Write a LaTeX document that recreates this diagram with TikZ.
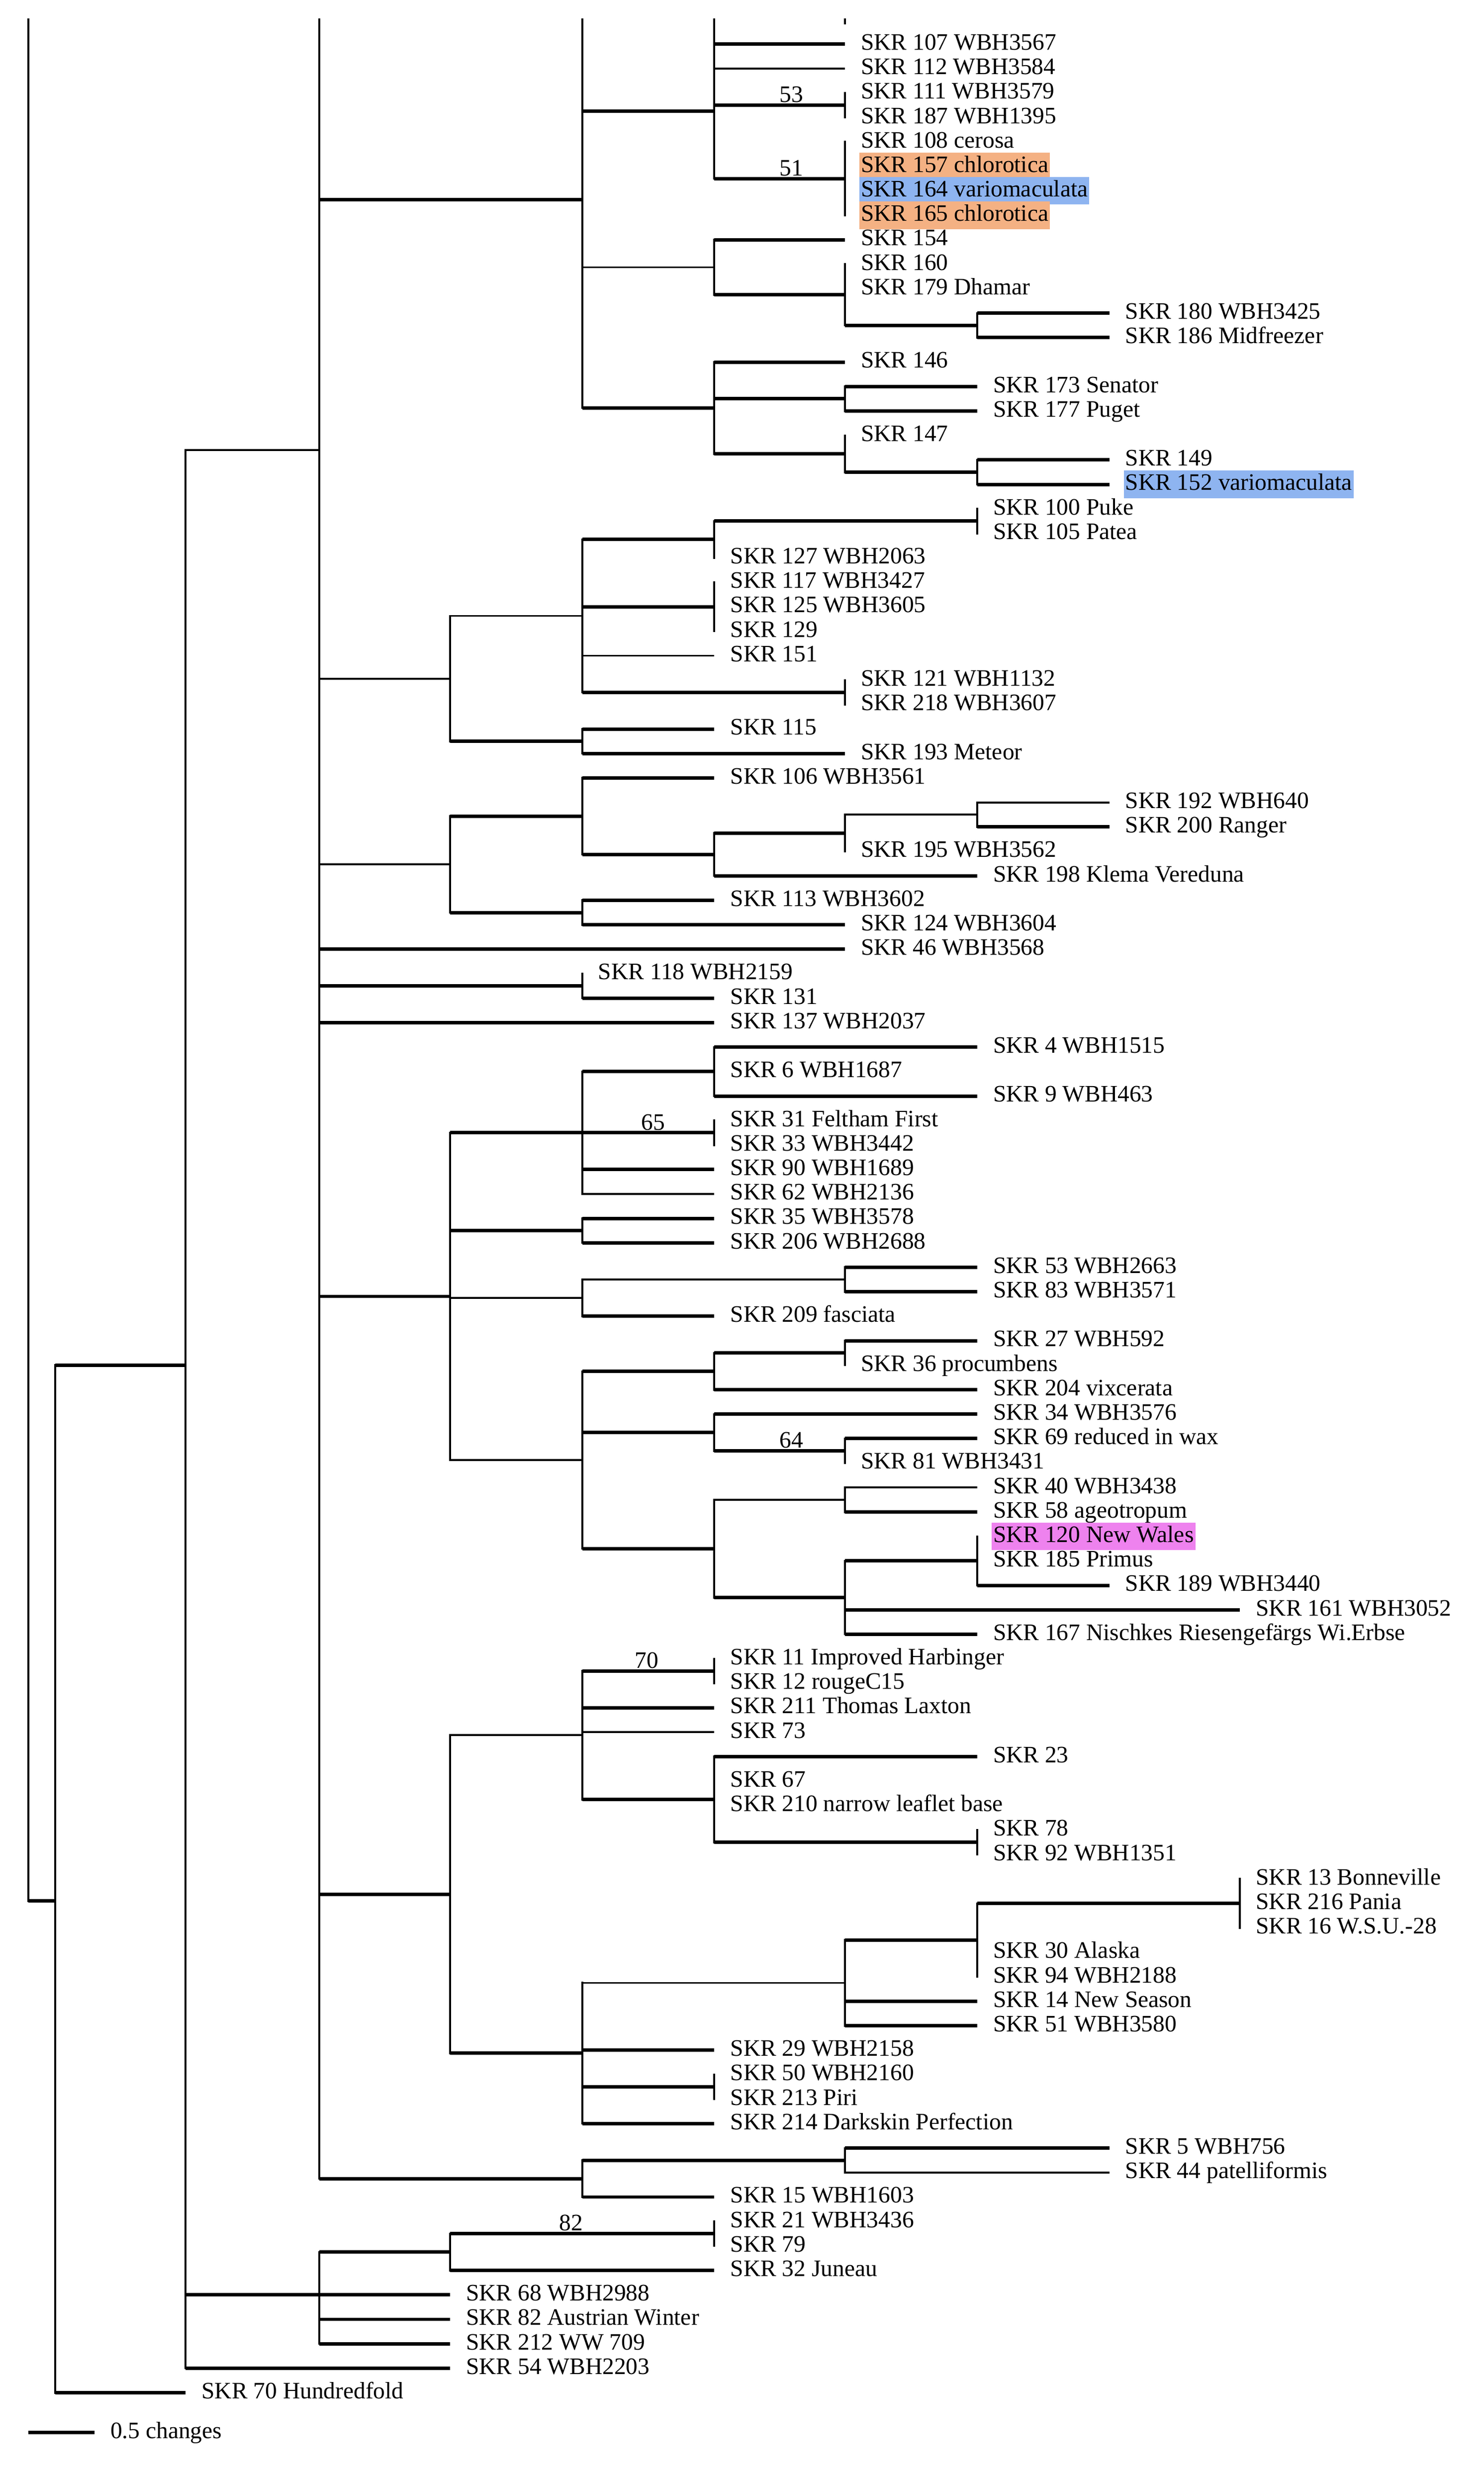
\documentclass[tikz,border=0pt]{standalone}
\usepackage{fontspec}
\setmainfont{Liberation Serif}
\definecolor{hor}{HTML}{F4B183}
\definecolor{hbl}{HTML}{8EB4F0}
\definecolor{hmg}{HTML}{EE82EE}
\newcommand\Nd[7]{%
 \coordinate (#1) at (#3,#4); \coordinate (#1p) at (#2,#4);
 \coordinate (#1a) at (#3,#5); \coordinate (#1z) at (#3,#6);
 \draw[#7] (#1p) -- (#1); \draw[v] (#1a) -- (#1z);}
\newcommand\Lf[6]{%
 \coordinate (#1p) at (#2,#4); \coordinate (#1t) at (#3,#4);
 \draw[#6] (#1p) -- (#1t);
 \node[lab] (#1) at ([xshift=9pt]#1t) {#5};}
\newcommand\Lh[7]{%
 \coordinate (#1p) at (#2,#4); \coordinate (#1t) at (#3,#4);
 \draw[#6] (#1p) -- (#1t);
 \node[lab,fill=#7] (#1) at ([xshift=9pt]#1t) {#5};}
\begin{document}
\begin{tikzpicture}[x=1pt,y=-15.55pt,
 v/.style={line width=1.3pt,line cap=rect},
 h/.style={line width=2.2pt},
 t/.style={line width=1.2pt},
 lab/.style={anchor=west,font=\fontsize{15}{15}\selectfont,inner xsep=1pt,inner ysep=1.5pt,text height=11pt,text depth=3.5pt},
 sup/.style={anchor=south,font=\fontsize{15}{15}\selectfont,inner sep=1.5pt}]
\useasboundingbox (0,-1.8) rectangle (943,99.16);
% backbone
\Nd{nA}{18}{18}{75.9}{-1}{75.9}{h}
\Nd{nB}{18}{35}{75.9}{54.0}{96}{h}
\Nd{nC}{35}{118}{54.0}{16.6}{95}{h}
\Nd{nD}{118}{203}{16.6}{-1}{87.25}{t}
\coordinate (tk1) at (537,-1); \coordinate (tk2) at (537,-0.85);
\draw[v] (tk1) -- (tk2);
% upper clade
\Nd{nE}{203}{370}{6.37}{-1}{14.875}{h}
\Nd{nF}{370}{454}{2.75}{-1}{5.5}{h}
\Lf{L0}{454}{537}{0}{SKR 107 WBH3567}{h}
\Lf{L1}{454}{537}{1}{SKR 112 WBH3584}{t}
\Nd{nG}{454}{537}{2.5}{2}{3}{h}
\node[sup] (s53) at (503,2.5) {53};
\Lf{L2}{537}{537}{2}{SKR 111 WBH3579}{t}
\Lf{L3}{537}{537}{3}{SKR 187 WBH1395}{t}
\Nd{nH}{454}{537}{5.5}{4}{7}{h}
\node[sup] (s51) at (503,5.5) {51};
\Lf{L4}{537}{537}{4}{SKR 108 cerosa}{t}
\Lh{L5}{537}{537}{5}{SKR 157 chlorotica}{t}{hor}
\Lh{L6}{537}{537}{6}{SKR 164 variomaculata}{t}{hbl}
\Lh{L7}{537}{537}{7}{SKR 165 chlorotica}{t}{hor}
\Nd{nI}{370}{454}{9.125}{8}{10.25}{t}
\Lf{L8}{454}{537}{8}{SKR 154}{h}
\Nd{nJ}{454}{537}{10.25}{9}{11.5}{h}
\Lf{L9}{537}{537}{9}{SKR 160}{t}
\Lf{L10}{537}{537}{10}{SKR 179 Dhamar}{t}
\Nd{nK}{537}{621}{11.5}{11}{12}{h}
\Lf{L11}{621}{705}{11}{SKR 180 WBH3425}{h}
\Lf{L12}{621}{705}{12}{SKR 186 Midfreezer}{h}
\Nd{nL}{370}{454}{14.875}{13}{16.75}{h}
\Lf{L13}{454}{537}{13}{SKR 146}{h}
\Nd{nM}{454}{537}{14.5}{14}{15}{h}
\Lf{L14}{537}{621}{14}{SKR 173 Senator}{h}
\Lf{L15}{537}{621}{15}{SKR 177 Puget}{h}
\Nd{nN}{454}{537}{16.75}{16}{17.5}{h}
\Lf{L16}{537}{537}{16}{SKR 147}{t}
\Nd{nO}{537}{621}{17.5}{17}{18}{h}
\Lf{L17}{621}{705}{17}{SKR 149}{h}
\Lh{L18}{621}{705}{18}{SKR 152 variomaculata}{h}{hbl}
% clade 2
\Nd{nP}{203}{286}{25.94}{23.375}{28.5}{t}
\Nd{nQ}{286}{370}{23.375}{20.25}{26.5}{t}
\Nd{nR}{370}{454}{20.25}{19.5}{21}{h}
\Nd{nS}{454}{621}{19.5}{19}{20}{h}
\Lf{L19}{621}{621}{19}{SKR 100 Puke}{t}
\Lf{L20}{621}{621}{20}{SKR 105 Patea}{t}
\Lf{L21}{454}{454}{21}{SKR 127 WBH2063}{t}
\Nd{nT}{370}{454}{23}{22}{24}{h}
\Lf{L22}{454}{454}{22}{SKR 117 WBH3427}{t}
\Lf{L23}{454}{454}{23}{SKR 125 WBH3605}{t}
\Lf{L24}{454}{454}{24}{SKR 129}{t}
\Lf{L25}{370}{454}{25}{SKR 151}{t}
\Nd{nU}{370}{537}{26.5}{26}{27}{h}
\Lf{L26}{537}{537}{26}{SKR 121 WBH1132}{t}
\Lf{L27}{537}{537}{27}{SKR 218 WBH3607}{t}
\Nd{nV}{286}{370}{28.5}{28}{29}{h}
\Lf{L28}{370}{454}{28}{SKR 115}{h}
\Lf{L29}{370}{537}{29}{SKR 193 Meteor}{h}
\Nd{nW}{203}{286}{33.53}{31.56}{35.5}{t}
\Nd{nX}{286}{370}{31.56}{30}{33.125}{h}
\Lf{L30}{370}{454}{30}{SKR 106 WBH3561}{h}
\Nd{nY}{370}{454}{33.125}{32.25}{34}{h}
\Nd{nZ}{454}{537}{32.25}{31.5}{33}{h}
\Nd{nAa}{537}{621}{31.5}{31}{32}{t}
\Lf{L31}{621}{705}{31}{SKR 192 WBH640}{t}
\Lf{L32}{621}{705}{32}{SKR 200 Ranger}{h}
\Lf{L33}{537}{537}{33}{SKR 195 WBH3562}{t}
\Lf{L34}{454}{621}{34}{SKR 198 Klema Vereduna}{h}
\Nd{nAb}{286}{370}{35.5}{35}{36}{h}
\Lf{L35}{370}{454}{35}{SKR 113 WBH3602}{h}
\Lf{L36}{370}{537}{36}{SKR 124 WBH3604}{h}
\Lf{L37}{203}{537}{37}{SKR 46 WBH3568}{h}
\Nd{nAc}{203}{370}{38.5}{38}{39}{h}
\Lf{L38}{370}{370}{38}{SKR 118 WBH2159}{t}
\Lf{L39}{370}{454}{39}{SKR 131}{h}
\Lf{L40}{203}{454}{40}{SKR 137 WBH2037}{h}
% clade 3
\Nd{nAd}{203}{286}{51.19}{44.5}{57.875}{h}
\Nd{nAe}{286}{370}{44.5}{42}{47}{h}
\Nd{nAf}{370}{454}{42}{41}{43}{h}
\Lf{L41}{454}{621}{41}{SKR 4 WBH1515}{h}
\Lf{L42}{454}{454}{42}{SKR 6 WBH1687}{t}
\Lf{L43}{454}{621}{43}{SKR 9 WBH463}{h}
\Nd{nAg}{370}{454}{44.5}{44}{45}{h}
\node[sup] (s65) at (415,44.5) {65};
\Lf{L44}{454}{454}{44}{SKR 31 Feltham First}{t}
\Lf{L45}{454}{454}{45}{SKR 33 WBH3442}{t}
\Lf{L46}{370}{454}{46}{SKR 90 WBH1689}{h}
\Lf{L47}{370}{454}{47}{SKR 62 WBH2136}{t}
\Nd{nAh}{286}{370}{48.5}{48}{49}{h}
\Lf{L48}{370}{454}{48}{SKR 35 WBH3578}{h}
\Lf{L49}{370}{454}{49}{SKR 206 WBH2688}{h}
\Nd{nAi}{286}{370}{51.25}{50.5}{52}{t}
\Nd{nAj}{370}{537}{50.5}{50}{51}{t}
\Lf{L50}{537}{621}{50}{SKR 53 WBH2663}{h}
\Lf{L51}{537}{621}{51}{SKR 83 WBH3571}{h}
\Lf{L52}{370}{454}{52}{SKR 209 fasciata}{h}
\Nd{nAk}{286}{370}{57.875}{54.25}{61.5}{t}
\Nd{nAl}{370}{454}{54.25}{53.5}{55}{h}
\Nd{nAm}{454}{537}{53.5}{53}{54}{h}
\Lf{L53}{537}{621}{53}{SKR 27 WBH592}{h}
\Lf{L54}{537}{537}{54}{SKR 36 procumbens}{t}
\Lf{L55}{454}{621}{55}{SKR 204 vixcerata}{h}
\Nd{nAn}{370}{454}{56.75}{56}{57.5}{h}
\Lf{L56}{454}{621}{56}{SKR 34 WBH3576}{h}
\Nd{nAo}{454}{537}{57.5}{57}{58}{h}
\node[sup] (s64) at (503,57.5) {64};
\Lf{L57}{537}{621}{57}{SKR 69 reduced in wax}{h}
\Lf{L58}{537}{537}{58}{SKR 81 WBH3431}{t}
\Nd{nAp}{370}{454}{61.5}{59.5}{63.5}{h}
\Nd{nAq}{454}{537}{59.5}{59}{60}{t}
\Lf{L59}{537}{621}{59}{SKR 40 WBH3438}{t}
\Lf{L60}{537}{621}{60}{SKR 58 ageotropum}{h}
\Nd{nAr}{454}{537}{63.5}{62}{65}{h}
\Nd{nAs}{537}{621}{62}{61}{63}{h}
\Lh{L61}{621}{621}{61}{SKR 120 New Wales}{t}{hmg}
\Lf{L62}{621}{621}{62}{SKR 185 Primus}{t}
\Lf{L63}{621}{705}{63}{SKR 189 WBH3440}{h}
\Lf{L64}{537}{788}{64}{SKR 161 WBH3052}{h}
\Lf{L65}{537}{621}{65}{SKR 167 Nischkes Riesengefärgs Wi.Erbse}{h}
% clade 4
\Nd{nAt}{203}{286}{75.625}{69.125}{82.125}{h}
\Nd{nAu}{286}{370}{69.125}{66.5}{71.75}{t}
\Nd{nAv}{370}{454}{66.5}{66}{67}{h}
\node[sup] (s70) at (411,66.5) {70};
\Lf{L66}{454}{454}{66}{SKR 11 Improved Harbinger}{t}
\Lf{L67}{454}{454}{67}{SKR 12 rougeC15}{t}
\Lf{L68}{370}{454}{68}{SKR 211 Thomas Laxton}{h}
\Lf{L69}{370}{454}{69}{SKR 73}{t}
\Nd{nAw}{370}{454}{71.75}{70}{73.5}{h}
\Lf{L70}{454}{621}{70}{SKR 23}{h}
\Lf{L71}{454}{454}{71}{SKR 67}{t}
\Lf{L72}{454}{454}{72}{SKR 210 narrow leaflet base}{t}
\Nd{nAx}{454}{621}{73.5}{73}{74}{h}
\Lf{L73}{621}{621}{73}{SKR 78}{t}
\Lf{L74}{621}{621}{74}{SKR 92 WBH1351}{t}
\Nd{nAy}{286}{370}{82.125}{79.25}{85}{h}
\Nd{nAz}{370}{537}{79.25}{77.5}{81}{t}
\Nd{nBa}{537}{621}{77.5}{76}{79}{h}
\Nd{nBb}{621}{788}{76}{75}{77}{h}
\Lf{L75}{788}{788}{75}{SKR 13 Bonneville}{t}
\Lf{L76}{788}{788}{76}{SKR 216 Pania}{t}
\Lf{L77}{788}{788}{77}{SKR 16 W.S.U.-28}{t}
\Lf{L78}{621}{621}{78}{SKR 30 Alaska}{t}
\Lf{L79}{621}{621}{79}{SKR 94 WBH2188}{t}
\Lf{L80}{537}{621}{80}{SKR 14 New Season}{h}
\Lf{L81}{537}{621}{81}{SKR 51 WBH3580}{h}
\Lf{L82}{370}{454}{82}{SKR 29 WBH2158}{h}
\Nd{nBc}{370}{454}{83.5}{83}{84}{h}
\Lf{L83}{454}{454}{83}{SKR 50 WBH2160}{t}
\Lf{L84}{454}{454}{84}{SKR 213 Piri}{t}
\Lf{L85}{370}{454}{85}{SKR 214 Darkskin Perfection}{h}
\Nd{nBd}{203}{370}{87.25}{86.5}{88}{h}
\Nd{nBe}{370}{537}{86.5}{86}{87}{h}
\Lf{L86}{537}{705}{86}{SKR 5 WBH756}{h}
\Lf{L87}{537}{705}{87}{SKR 44 patelliformis}{t}
\Lf{L88}{370}{454}{88}{SKR 15 WBH1603}{h}
% basal
\Nd{nBf}{118}{203}{92}{90.25}{94}{h}
\Nd{nBg}{203}{286}{90.25}{89.5}{91}{h}
\Nd{nBh}{286}{454}{89.5}{89}{90}{h}
\node[sup] (s82) at (363,89.5) {82};
\Lf{L89}{454}{454}{89}{SKR 21 WBH3436}{t}
\Lf{L90}{454}{454}{90}{SKR 79}{t}
\Lf{L91}{286}{454}{91}{SKR 32 Juneau}{h}
\Lf{L92}{203}{286}{92}{SKR 68 WBH2988}{h}
\Lf{L93}{203}{286}{93}{SKR 82 Austrian Winter}{h}
\Lf{L94}{203}{286}{94}{SKR 212 WW 709}{h}
\Lf{L95}{118}{286}{95}{SKR 54 WBH2203}{h}
\Lf{L96}{35}{118}{96}{SKR 70 Hundredfold}{h}
% scale bar
\Lf{Ls}{18}{60}{97.62}{0.5 changes}{h}
\end{tikzpicture}
\end{document}
